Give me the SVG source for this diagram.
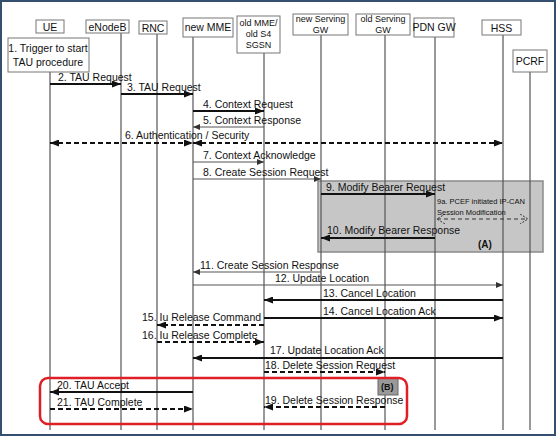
<svg xmlns="http://www.w3.org/2000/svg" width="556" height="437" viewBox="0 0 556 437">
<defs>
<style>
text{font-family:"Liberation Sans",Arial,sans-serif;font-size:10.5px;fill:#111}
.hd{font-size:10.5px;text-anchor:middle}
.hs{font-size:9px;text-anchor:middle}
.box{fill:#fff;stroke:#777;stroke-width:1}
.life{stroke:#555;stroke-width:1.2}
.thick{stroke:#111;stroke-width:2;fill:none}
.thin{stroke:#555;stroke-width:1;fill:none}
.dash{stroke:#111;stroke-width:2;fill:none;stroke-dasharray:5 3}
</style>
<marker id="a" markerUnits="userSpaceOnUse" markerWidth="9" markerHeight="7" refX="9" refY="3.5" orient="auto-start-reverse"><path d="M0,0 L9,3.5 L0,7 z" fill="#111"/></marker>
<marker id="s" markerUnits="userSpaceOnUse" markerWidth="7" markerHeight="6" refX="7" refY="3" orient="auto-start-reverse"><path d="M0,0 L7,3 L0,6 z" fill="#333"/></marker>
<marker id="o" markerUnits="userSpaceOnUse" markerWidth="8" markerHeight="10" refX="8" refY="5" orient="auto-start-reverse"><path d="M0,0 L8,5 L0,10" fill="none" stroke="#333" stroke-width="1" stroke-dasharray="2 1.5"/></marker>
</defs>
<rect x="1" y="1" width="554" height="434" fill="#fff" stroke="#34506e" stroke-width="2"/>

<g id="regionA">
<rect x="318" y="181" width="225" height="71" fill="#c6c6c6" stroke="#8a8a8a" stroke-width="1.5"/>
<text x="478" y="248" style="font-weight:bold;font-size:10px">(A)</text>
</g>

<g id="lifelines">
<line class="life" x1="50" y1="72" x2="50" y2="430"/>
<line class="life" x1="121" y1="33" x2="121" y2="430"/>
<line class="life" x1="157" y1="34" x2="157" y2="430"/>
<line class="life" x1="193" y1="37" x2="193" y2="430"/>
<line class="life" x1="264" y1="53" x2="264" y2="430"/>
<line class="life" x1="321" y1="35" x2="321" y2="430"/>
<line class="life" x1="385" y1="35" x2="385" y2="430"/>
<line class="life" x1="435" y1="37" x2="435" y2="430"/>
<line class="life" x1="503" y1="35" x2="503" y2="430" stroke="#777"/>
<line class="life" x1="530" y1="72" x2="530" y2="430" stroke="#999"/>
</g>

<g id="UE"><rect class="box" x="36" y="20" width="28" height="13"/><text class="hd" x="50" y="30.5">UE</text></g>
<g id="trigger"><rect class="box" x="8" y="38" width="81" height="34"/><text class="hd" x="48" y="52">1. Trigger to start</text><text class="hd" x="48" y="66">TAU procedure</text></g>
<g id="eNodeB"><rect class="box" x="86" y="20" width="43" height="13"/><text class="hd" x="107.5" y="30.5">eNodeB</text></g>
<g id="RNC"><rect class="box" x="139" y="21" width="28" height="13"/><text class="hd" x="153" y="31.5">RNC</text></g>
<g id="newMME"><rect class="box" x="183" y="18" width="50" height="19"/><text class="hd" x="208" y="31">new MME</text></g>
<g id="oldMME"><rect class="box" x="237" y="16" width="43" height="37"/><text class="hs" x="258.5" y="26">old MME/</text><text class="hs" x="258.5" y="37">old S4</text><text class="hs" x="258.5" y="48">SGSN</text></g>
<g id="newSGW"><rect class="box" x="293" y="14" width="55" height="21"/><text class="hs" x="320.5" y="22">new Serving</text><text class="hs" x="320.5" y="32.5">GW</text></g>
<g id="oldSGW"><rect class="box" x="356" y="14" width="54" height="21"/><text class="hs" x="383" y="22">old Serving</text><text class="hs" x="383" y="32.5">GW</text></g>
<g id="PDNGW"><rect class="box" x="414" y="18" width="40" height="19"/><text class="hd" x="434" y="31">PDN GW</text></g>
<g id="HSS"><rect class="box" x="482" y="20" width="39" height="15"/><text class="hd" x="501.5" y="31.5">HSS</text></g>
<g id="PCRF"><rect class="box" x="513" y="50" width="34" height="22"/><text class="hd" x="530" y="64.5">PCRF</text></g>
<g id="regionB"><rect x="378" y="378" width="20" height="17" fill="#999" stroke="#666"/><text x="381" y="390" style="font-size:9px;font-weight:bold">(B)</text></g>

<g id="connectors">
<line class="thick" x1="50" y1="84" x2="121" y2="84" marker-end="url(#a)"/>
<line class="thick" x1="121" y1="94" x2="193" y2="94" marker-end="url(#a)"/>
<line class="thick" x1="193" y1="111" x2="264" y2="111" marker-end="url(#a)"/>
<line class="thin" x1="264" y1="127" x2="193" y2="127" marker-end="url(#s)"/>
<line class="dash" x1="50" y1="143" x2="193" y2="143" marker-start="url(#a)" marker-end="url(#a)"/>
<line class="dash" x1="193" y1="143" x2="503" y2="143" marker-start="url(#a)" marker-end="url(#a)"/>
<line class="thin" x1="193" y1="162" x2="264" y2="162" marker-end="url(#s)" stroke="#111" stroke-width="1.3"/>
<line class="thin" x1="193" y1="179" x2="321" y2="179" marker-end="url(#s)" stroke="#111" stroke-width="1.5"/>
<line class="thick" x1="321" y1="194" x2="435" y2="194" marker-end="url(#a)"/>
<line x1="437" y1="219" x2="528" y2="219" stroke="#333" stroke-width="1" stroke-dasharray="4 3" marker-start="url(#o)" marker-end="url(#o)"/>
<line class="thick" x1="435" y1="238" x2="321" y2="238" marker-end="url(#a)"/>
<line class="thin" x1="321" y1="272" x2="193" y2="272" marker-end="url(#s)"/>
<line class="thin" x1="193" y1="285" x2="503" y2="285" marker-end="url(#s)"/>
<line class="thick" x1="503" y1="300" x2="264" y2="300" marker-end="url(#a)"/>
<line class="thick" x1="264" y1="318" x2="503" y2="318" marker-end="url(#a)"/>
<line class="dash" x1="264" y1="325" x2="157" y2="325" marker-end="url(#a)"/>
<line class="dash" x1="157" y1="342" x2="264" y2="342" marker-end="url(#a)"/>
<line class="thick" x1="503" y1="358" x2="193" y2="358" marker-end="url(#a)"/>
<line class="dash" x1="264" y1="372" x2="385" y2="372" marker-end="url(#a)"/>
<line class="thick" x1="193" y1="392" x2="50" y2="392" marker-end="url(#a)"/>
<line class="dash" x1="385" y1="407" x2="264" y2="407" marker-end="url(#a)"/>
<line class="dash" x1="50" y1="409" x2="193" y2="409" marker-end="url(#a)"/>
</g>

<g id="labels">
<text x="58" y="81">2. TAU Request</text>
<text x="127" y="91">3. TAU Request</text>
<text x="203" y="108">4. Context Request</text>
<text x="203" y="124">5. Context Response</text>
<text x="125" y="139">6. Authentication / Security</text>
<text x="203" y="159">7. Context Acknowledge</text>
<text x="203" y="176">8. Create Session Request</text>
<text x="326" y="191">9. Modify Bearer Request</text>
<text x="437" y="204" style="font-size:7.5px">9a. PCEF initiated IP-CAN</text>
<text x="437" y="215" style="font-size:7.5px">Session Modification</text>
<text x="327" y="234">10. Modify Bearer Response</text>
<text x="200" y="269">11. Create Session Response</text>
<text x="275" y="282">12. Update Location</text>
<text x="323" y="297">13. Cancel Location</text>
<text x="323" y="315">14. Cancel Location Ack</text>
<text x="142" y="321">15. Iu Release Command</text>
<text x="142" y="339">16. Iu Release Complete</text>
<text x="270" y="354">17. Update Location Ack</text>
<text x="265" y="369">18. Delete Session Request</text>
<text x="265" y="404">19. Delete Session Response</text>
<text x="57" y="389">20. TAU Accept</text>
<text x="57" y="406">21. TAU Complete</text>
</g>

<rect id="highlight" x="40" y="378" width="367" height="46" rx="8" fill="none" stroke="#e01e25" stroke-width="2.5"/>
</svg>
